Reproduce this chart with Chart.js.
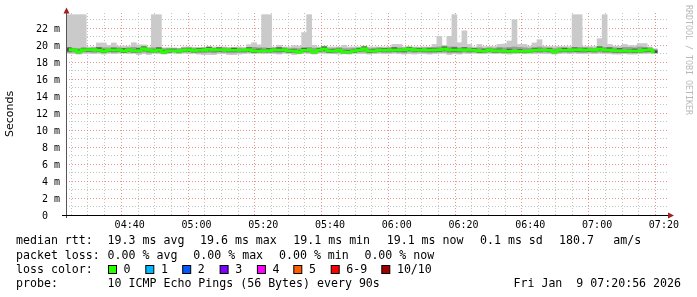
<!DOCTYPE html>
<html><head><meta charset="utf-8">
<script src="https://cdn.jsdelivr.net/npm/chart.js@4/dist/chart.umd.min.js"></script>
<style>html,body{margin:0;padding:0;background:#fff}canvas{display:block}</style>
</head><body>
<canvas id="c" width="697" height="297"></canvas>
<script>
// ---- data (ms), one value per 90 s probe bin ----
const medRtt = [19.48,19.48,19.24,19.48,19.48,19.48,19.40,19.28,19.44,19.44,
19.44,19.32,19.44,19.36,19.36,19.60,19.40,19.32,19.44,19.20,
19.36,19.36,19.28,19.40,19.48,19.36,19.40,19.40,19.52,19.44,
19.48,19.48,19.40,19.40,19.40,19.40,19.48,19.32,19.32,19.36,
19.36,19.44,19.44,19.44,19.32,19.32,19.20,19.40,19.40,19.20,
19.44,19.56,19.32,19.32,19.40,19.20,19.20,19.32,19.40,19.60,
19.32,19.32,19.40,19.40,19.40,19.44,19.44,19.44,19.56,19.44,
19.44,19.40,19.44,19.44,19.44,19.56,19.44,19.44,19.44,19.48,
19.40,19.40,19.32,19.32,19.44,19.36,19.36,19.28,19.28,19.32,
19.28,19.28,19.28,19.40,19.40,19.40,19.40,19.24,19.40,19.40,
19.40,19.48,19.48,19.44,19.44,19.40,19.56,19.44,19.44,19.36,
19.36,19.32,19.32,19.32,19.32,19.44,19.44,19.24];
const smokeMax = [23.6,23.6,23.6,23.6,19.8,19.8,20.27,20.27,20.0,20.27,
19.9,19.9,19.9,20.3,20.05,20.05,19.8,23.6,23.6,19.7,
19.7,19.7,19.65,19.8,19.8,19.75,19.75,19.75,19.85,19.8,
19.8,19.8,19.75,19.75,19.8,19.75,20.07,20.3,20.05,23.6,
23.6,19.8,20.0,19.8,19.8,19.95,19.9,21.5,23.6,20.0,
19.8,19.9,19.8,19.8,19.8,20.0,19.8,19.8,19.8,19.9,
19.8,19.8,19.8,19.8,19.8,20.1,20.1,19.8,19.8,19.8,
19.8,19.8,19.8,20.1,21.05,20.0,21.05,23.6,20.3,21.7,
20.1,19.8,20.1,19.85,19.85,19.85,20.1,20.15,20.5,23.0,
20.1,20.1,19.9,20.27,20.66,19.9,19.85,19.85,19.85,19.85,
19.85,23.6,23.6,19.85,19.85,19.85,20.78,23.6,20.1,19.9,
19.9,20.1,19.95,19.95,20.2,20.2,19.8,19.6];
const smokeMin = [19.05,19.0,18.95,19.05,19.05,19.0,19.05,18.95,19.05,19.0,
19.05,19.05,19.0,19.05,18.9,19.0,18.9,19.05,19.0,18.95,
19.0,19.05,19.0,19.05,19.0,19.05,18.95,18.9,18.9,18.9,
19.0,19.0,18.9,18.9,18.95,19.0,19.05,19.0,19.05,19.0,
19.05,19.0,18.95,19.05,19.0,18.9,19.0,19.05,19.0,18.95,
19.05,19.05,19.0,19.0,18.95,19.0,18.95,19.05,19.0,19.0,
18.95,19.0,19.05,19.0,19.0,19.05,19.0,18.95,19.0,18.95,
19.0,19.0,18.95,19.0,19.05,19.05,18.9,19.0,18.95,19.05,
19.0,19.05,19.0,19.0,19.05,19.0,19.05,19.0,18.95,19.0,
19.05,19.0,19.05,19.0,19.05,19.0,19.0,18.95,19.0,19.05,
19.0,19.05,19.0,19.0,19.05,19.0,19.05,19.0,19.0,18.95,
18.95,19.0,18.95,18.95,19.0,19.0,19.05,19.15];
const midHi = [19.7,19.65,19.6,19.7,19.65,19.7,19.75,19.7,19.7,19.75,
19.7,19.65,19.7,19.75,19.7,19.85,19.65,19.7,19.7,19.6,
19.65,19.6,19.6,19.7,19.7,19.65,19.65,19.7,19.8,19.65,
19.7,19.7,19.65,19.7,19.65,19.6,19.75,19.75,19.7,19.7,
19.65,19.7,19.75,19.7,19.6,19.65,19.6,19.7,19.75,19.65,
19.65,19.85,19.6,19.65,19.7,19.6,19.6,19.65,19.7,19.85,
19.6,19.65,19.7,19.65,19.7,19.75,19.7,19.7,19.8,19.7,
19.65,19.7,19.7,19.75,19.8,19.85,19.8,19.8,19.7,19.75,
19.7,19.65,19.7,19.6,19.7,19.65,19.75,19.7,19.75,19.8,
19.75,19.7,19.65,19.75,19.8,19.7,19.7,19.6,19.7,19.7,
19.65,19.7,19.75,19.7,19.7,19.65,19.85,19.75,19.7,19.7,
19.65,19.75,19.75,19.7,19.8,19.75,19.7,19.5];
const midLo = [19.15,19.2,19.1,19.2,19.2,19.15,19.2,19.1,19.2,19.15,
19.2,19.15,19.2,19.15,19.1,19.2,19.1,19.2,19.15,19.1,
19.15,19.2,19.1,19.2,19.2,19.15,19.1,19.1,19.15,19.1,
19.2,19.15,19.1,19.1,19.15,19.15,19.2,19.15,19.2,19.15,
19.2,19.15,19.1,19.2,19.15,19.1,19.1,19.2,19.15,19.1,
19.2,19.2,19.15,19.1,19.15,19.1,19.1,19.15,19.2,19.2,
19.1,19.15,19.2,19.15,19.15,19.2,19.15,19.1,19.2,19.15,
19.2,19.15,19.1,19.15,19.2,19.2,19.1,19.15,19.1,19.2,
19.15,19.2,19.15,19.15,19.2,19.15,19.2,19.1,19.1,19.15,
19.15,19.1,19.15,19.2,19.15,19.2,19.15,19.1,19.15,19.2,
19.15,19.2,19.15,19.15,19.2,19.15,19.2,19.15,19.15,19.1,
19.1,19.15,19.1,19.1,19.15,19.15,19.2,19.2];
const coreHi = [19.7,19.55,19.45,19.65,19.6,19.55,19.7,19.5,19.5,19.65,
19.55,19.6,19.55,19.45,19.6,19.8,19.5,19.45,19.7,19.4,
19.5,19.55,19.4,19.55,19.65,19.45,19.6,19.55,19.75,19.55,
19.7,19.55,19.5,19.65,19.5,19.45,19.7,19.45,19.55,19.45,
19.6,19.55,19.7,19.55,19.45,19.5,19.35,19.65,19.5,19.3,
19.65,19.8,19.45,19.5,19.55,19.35,19.4,19.45,19.6,19.8,
19.45,19.5,19.55,19.6,19.55,19.7,19.55,19.5,19.75,19.55,
19.65,19.5,19.65,19.6,19.55,19.8,19.55,19.7,19.55,19.7,
19.5,19.6,19.4,19.55,19.55,19.5,19.55,19.4,19.55,19.4,
19.5,19.35,19.4,19.6,19.55,19.5,19.6,19.35,19.5,19.65,
19.5,19.7,19.55,19.65,19.5,19.5,19.8,19.55,19.7,19.45,
19.6,19.4,19.45,19.55,19.4,19.65,19.5,19.35];
const coreLo = [19.3,19.35,19.1,19.35,19.3,19.35,19.25,19.15,19.3,19.3,
19.3,19.15,19.3,19.2,19.25,19.45,19.25,19.2,19.3,19.1,
19.2,19.25,19.15,19.25,19.3,19.2,19.25,19.3,19.35,19.3,
19.3,19.35,19.25,19.25,19.3,19.25,19.3,19.15,19.2,19.25,
19.2,19.3,19.3,19.3,19.15,19.2,19.1,19.25,19.3,19.1,
19.3,19.4,19.15,19.2,19.25,19.1,19.1,19.15,19.25,19.45,
19.15,19.2,19.25,19.3,19.25,19.3,19.3,19.25,19.4,19.3,
19.3,19.25,19.3,19.3,19.25,19.4,19.3,19.25,19.3,19.35,
19.25,19.25,19.15,19.2,19.3,19.2,19.2,19.15,19.15,19.2,
19.15,19.15,19.15,19.25,19.25,19.3,19.25,19.1,19.25,19.25,
19.25,19.3,19.3,19.3,19.25,19.25,19.4,19.3,19.3,19.2,
19.2,19.15,19.2,19.15,19.2,19.3,19.25,19.1];
const binStartMin = 21.0;   // first bin start, minutes after 04:00
const binStepMin = 1.5;     // 90 s probe interval
const timeLabels = ['04:40','05:00','05:20','05:40','06:00','06:20','06:40','07:00','07:20'];
const yTickLabels = ['0  ','2 m','4 m','6 m','8 m','10 m','12 m','14 m','16 m','18 m','20 m','22 m'];
const rttLegend = ['median rtt:','19.3 ms avg','19.6 ms max','19.1 ms min','19.1 ms now','0.1 ms sd','180.7','am/s'];
const lossLegend = ['packet loss:','0.00 % avg','0.00 % max','0.00 % min','0.00 % now'];
const lossLabels = ['0','1','2','3','4','5','6-9','10/10'];
const lossColors = ['#26ff00','#00b8ff','#0059ff','#7e00ff','#ff00ff','#ff5e00','#ff0000','#a10000'];
const probeText = ['probe:','10 ICMP Echo Pings (56 Bytes) every 90s','Fri Jan  9 07:20:56 2026'];

// ---- build chart ----
const tX = i => binStartMin + binStepMin * (i + 0.5);
const rangePts = (lo, hi) => lo.map((v, i) => ({x: tX(i), y: [v, hi[i]]}));
const medPts = medRtt.map((v, i) => ({x: tX(i), y: v}));

const MONO = '"DejaVu Sans Mono", monospace';

const deco = {
  id: 'deco',
  afterDraw(chart) {
    const c = chart.ctx, a = chart.chartArea;
    c.save();
    c.strokeStyle = '#555'; c.lineWidth = 1;
    c.beginPath(); c.moveTo(a.left + 0.5, a.bottom + 3); c.lineTo(a.left + 0.5, 10); c.stroke();
    c.strokeStyle = '#000';
    c.beginPath(); c.moveTo(a.left - 4, a.bottom + 0.5); c.lineTo(670, a.bottom + 0.5); c.stroke();
    c.fillStyle = '#a02020';
    c.beginPath(); c.moveTo(a.left - 2.5, 13.5); c.lineTo(a.left + 3.5, 13.5); c.lineTo(a.left + 0.5, 7.5); c.closePath(); c.fill();
    c.beginPath(); c.moveTo(668, a.bottom - 2.5); c.lineTo(668, a.bottom + 3.5); c.lineTo(674, a.bottom + 0.5); c.closePath(); c.fill();
    c.save();
    c.translate(688, 5); c.rotate(Math.PI / 2);
    c.font = '8.3px ' + MONO; c.fillStyle = '#b8b8b8';
    c.textAlign = 'left'; c.textBaseline = 'middle';
    c.fillText('RRDTOOL / TOBI OETIKER', 0, 0);
    c.restore();
    c.font = '11.6px ' + MONO; c.fillStyle = '#000'; c.textBaseline = 'middle'; c.textAlign = 'left';
    const r1x = [16, 107.6, 200, 293.3, 386.7, 480, 559, 613.3];
    rttLegend.forEach((s, i) => c.fillText(s, r1x[i], 241));
    const r2x = [16, 107.6, 193.3, 279, 364.4];
    lossLegend.forEach((s, i) => c.fillText(s, r2x[i], 255.5));
    c.fillText('loss color:', 16, 269.5);
    const sqx = [108, 145.3, 182.2, 219.6, 256.9, 293.3, 330.7, 381.3];
    lossLabels.forEach((s, i) => {
      c.fillStyle = lossColors[i]; c.fillRect(sqx[i] + 0.5, 265.5, 8, 8);
      c.strokeStyle = '#000'; c.strokeRect(sqx[i] + 0.5, 265.5, 8, 8);
      c.fillStyle = '#000'; c.fillText(s, sqx[i] + 15.6, 269.5);
    });
    c.fillText(probeText[0], 16, 283.5);
    c.fillText(probeText[1], 107.6, 283.5);
    c.textAlign = 'right';
    c.fillText(probeText[2], 681, 283.5);
    c.restore();
  }
};

const barCommon = {type: 'bar', grouped: false, barPercentage: 1, categoryPercentage: 1, borderWidth: 0};

new Chart(document.getElementById('c'), {
  data: {
    datasets: [
      {type: 'line', label: 'median', data: medPts, stepped: 'middle', borderColor: '#26ff00', borderWidth: 3,
       pointRadius: 0, fill: false, order: 0, borderJoinStyle: 'miter', borderCapStyle: 'butt'},
      Object.assign({label: 'core', data: rangePts(coreLo, coreHi), backgroundColor: '#4c4c4c', order: 1}, barCommon),
      Object.assign({label: 'mid', data: rangePts(midLo, midHi), backgroundColor: '#9c9c9c', order: 2}, barCommon),
      Object.assign({label: 'smoke', data: rangePts(smokeMin, smokeMax), backgroundColor: '#cacaca', order: 3}, barCommon)
    ]
  },
  options: {
    responsive: false, animation: false, devicePixelRatio: 1,
    layout: {padding: {top: 13, right: 30, left: 0, bottom: 0}},
    plugins: {legend: {display: false}, tooltip: {enabled: false}},
    scales: {
      x: {
        type: 'linear', min: 20.93, max: 200.93, offset: false,
        afterBuildTicks: s => { const t = []; for (let v = 25; v <= 200; v += 5) t.push({value: v}); s.ticks = t; },
        afterFit: s => { s.height = 82; },
        ticks: {autoSkip: false, maxRotation: 0, padding: 4, color: '#000', font: {family: MONO, size: 10},
          callback: v => (v % 20 === 0 && v >= 40) ? timeLabels[(v - 40) / 20] : ''},
        grid: {drawTicks: false, lineWidth: 1,
          color: ctx => (ctx.tick && ctx.tick.value % 20 === 0) ? 'rgba(225,110,110,0.75)' : 'rgba(180,180,180,0.8)'},
        border: {display: false, dash: [1, 2]}
      },
      y: {
        min: 0, max: 23.8,
        afterBuildTicks: s => { const t = []; for (let v = 1; v <= 23; v += 1) t.push({value: v}); t.unshift({value: 0}); s.ticks = t; },
        afterFit: s => { s.width = 66; },
        ticks: {autoSkip: false, padding: 6, labelOffset: 1, color: '#000', font: {family: MONO, size: 10},
          callback: v => (v % 2 === 0) ? yTickLabels[v / 2] : ''},
        grid: {drawTicks: false, lineWidth: 1,
          color: ctx => (ctx.tick && ctx.tick.value === 0) ? 'rgba(0,0,0,0)' :
            ((ctx.tick && ctx.tick.value % 2 === 0) ? 'rgba(225,110,110,0.75)' : 'rgba(180,180,180,0.8)')},
        border: {display: false, dash: [1, 2]},
        title: {display: true, text: 'Seconds', color: '#000', font: {family: '"DejaVu Sans"', size: 11}, padding: {top: 4, bottom: 4}}
      }
    }
  },
  plugins: [deco]
});
</script>
</body></html>
